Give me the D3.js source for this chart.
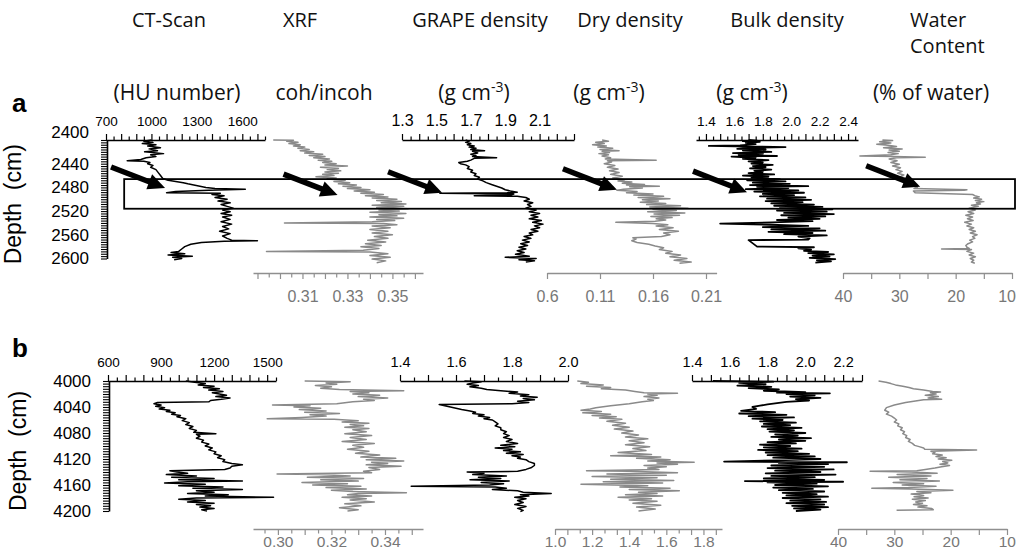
<!DOCTYPE html>
<html>
<head>
<meta charset="utf-8">
<script src="https://cdn.jsdelivr.net/npm/d3@7"></script>
<style>
  body { margin: 0; background: #fff; }
  svg { display: block; }
  text { font-family: "Liberation Sans", Arial, sans-serif; }
  .hdr { font-family: "Open Sans", sans-serif; font-size: 20px; fill: #111; }
  .unit { font-family: "Open Sans", sans-serif; font-size: 21px; fill: #111; }
</style>
</head>
<body>
<script>
// ---------- data (depth cm, value) ----------
// core section a
const ctA = [[2400,1000],[2402,950],[2404,1010],[2406,940],[2408,1030],[2410,975],[2413,1060],[2415,985],[2418,1040],[2420,955],[2423,1080],[2425,995],[2428,1030],[2430,965],[2433,930],[2435,840],[2436,950],[2438,990],[2440,975],[2443,1010],[2446,995],[2450,1030],[2455,1045],[2460,1060],[2465,1075],[2468,1110],[2470,1160],[2472,1210],[2474,1240],[2476,1280],[2478,1320],[2480,1360],[2482,1420],[2483,1620],[2485,1380],[2487,1160],[2489,1100],[2490,1455],[2492,1400],[2494,1480],[2497,1420],[2500,1500],[2503,1440],[2506,1520],[2509,1460],[2512,1500],[2515,1540],[2518,1470],[2521,1520],[2524,1460],[2527,1530],[2530,1470],[2534,1520],[2538,1460],[2542,1530],[2546,1470],[2550,1510],[2554,1450],[2558,1520],[2562,1470],[2566,1500],[2569,1530],[2570,1700],[2571,1480],[2573,1330],[2576,1260],[2580,1220],[2584,1200],[2588,1180],[2590,1130],[2592,1220],[2594,1110],[2596,1270],[2598,1140],[2600,1200],[2602,1150]];
const xrfA = [[2400,0.297],[2400.5,0.306],[2402,0.303],[2404,0.308],[2406,0.304],[2408,0.309],[2410,0.306],[2412,0.311],[2414,0.308],[2416,0.313],[2418,0.309],[2420,0.315],[2422,0.311],[2424,0.319],[2426,0.313],[2428,0.320],[2430,0.315],[2432,0.322],[2434,0.317],[2436,0.323],[2438,0.319],[2440,0.325],[2442,0.320],[2444,0.330],[2446,0.318],[2448,0.326],[2450,0.321],[2452,0.327],[2454,0.320],[2456,0.326],[2458,0.319],[2460,0.324],[2462,0.316],[2464,0.325],[2466,0.321],[2468,0.329],[2470,0.324],[2472,0.331],[2474,0.326],[2476,0.334],[2478,0.328],[2480,0.336],[2482,0.330],[2484,0.340],[2486,0.333],[2488,0.342],[2490,0.336],[2492,0.346],[2494,0.338],[2496,0.348],[2498,0.341],[2500,0.352],[2502,0.343],[2504,0.354],[2506,0.345],[2508,0.356],[2510,0.341],[2512,0.355],[2514,0.343],[2516,0.357],[2518,0.344],[2520,0.353],[2522,0.340],[2524,0.356],[2526,0.344],[2528,0.352],[2530,0.340],[2532,0.355],[2534,0.343],[2536,0.351],[2538,0.341],[2540,0.302],[2541,0.346],[2543,0.352],[2545,0.341],[2548,0.349],[2551,0.340],[2554,0.348],[2557,0.341],[2560,0.350],[2563,0.342],[2566,0.348],[2569,0.339],[2572,0.347],[2575,0.338],[2578,0.345],[2580,0.336],[2583,0.344],[2586,0.337],[2588,0.294],[2589,0.340],[2592,0.348],[2595,0.340],[2598,0.349],[2601,0.341],[2604,0.347],[2607,0.343]];
const grapeA = [[2400,1.67],[2402,1.69],[2404,1.67],[2406,1.70],[2408,1.68],[2410,1.72],[2412,1.69],[2414,1.73],[2416,1.70],[2418,1.78],[2419,1.71],[2422,1.74],[2424,1.70],[2426,1.73],[2428,1.71],[2430,1.85],[2431,1.72],[2434,1.70],[2436,1.68],[2438,1.63],[2440,1.64],[2442,1.67],[2445,1.69],[2448,1.68],[2451,1.71],[2454,1.70],[2457,1.73],[2460,1.72],[2463,1.75],[2466,1.74],[2469,1.77],[2472,1.79],[2475,1.82],[2478,1.85],[2481,1.88],[2484,1.90],[2486,1.93],[2488,1.97],[2489,1.91],[2490,1.52],[2491,1.95],[2493,1.93],[2494,1.72],[2495,1.97],[2497,2.02],[2500,2.04],[2503,2.01],[2506,2.06],[2509,2.03],[2512,2.05],[2515,2.02],[2518,2.08],[2521,2.04],[2524,2.10],[2527,2.05],[2530,2.09],[2533,2.04],[2536,2.11],[2539,2.06],[2542,2.12],[2545,2.07],[2548,2.10],[2551,2.05],[2554,2.09],[2557,2.04],[2560,2.06],[2563,2.01],[2566,2.05],[2569,2.00],[2572,2.04],[2575,1.99],[2578,2.03],[2581,1.98],[2584,2.02],[2587,1.97],[2590,2.01],[2593,1.96],[2596,2.04],[2598,1.90],[2600,2.08],[2602,1.98],[2604,2.07],[2606,2.02]];
const dryA = [[2400,0.112],[2402,0.118],[2404,0.106],[2406,0.114],[2408,0.103],[2410,0.116],[2412,0.108],[2414,0.122],[2416,0.110],[2418,0.128],[2419,0.112],[2421,0.119],[2423,0.109],[2425,0.118],[2427,0.112],[2430,0.120],[2432,0.115],[2434,0.163],[2435,0.117],[2437,0.121],[2440,0.114],[2443,0.124],[2446,0.117],[2449,0.127],[2452,0.119],[2455,0.128],[2458,0.120],[2461,0.131],[2464,0.122],[2467,0.133],[2469,0.127],[2471,0.140],[2473,0.131],[2475,0.152],[2476,0.135],[2478,0.166],[2479,0.138],[2481,0.150],[2483,0.132],[2485,0.126],[2487,0.145],[2489,0.135],[2491,0.160],[2493,0.142],[2495,0.170],[2497,0.146],[2499,0.176],[2501,0.150],[2503,0.165],[2505,0.148],[2507,0.172],[2509,0.154],[2511,0.186],[2513,0.157],[2515,0.193],[2517,0.160],[2519,0.182],[2521,0.155],[2523,0.190],[2525,0.161],[2527,0.185],[2529,0.158],[2531,0.178],[2533,0.163],[2535,0.172],[2537,0.162],[2539,0.125],[2541,0.160],[2543,0.174],[2545,0.163],[2548,0.179],[2551,0.166],[2554,0.184],[2557,0.170],[2560,0.176],[2563,0.168],[2565,0.141],[2567,0.144],[2570,0.140],[2573,0.145],[2576,0.156],[2579,0.162],[2582,0.170],[2585,0.166],[2588,0.178],[2591,0.172],[2594,0.186],[2597,0.176],[2600,0.192],[2603,0.180],[2606,0.196],[2608,0.185]];
const bulkA = [[2400,1.70],[2401,1.76],[2402,1.66],[2403,1.78],[2405,1.68],[2407,1.75],[2409,1.64],[2410,1.42],[2411,1.70],[2412,1.96],[2413,1.72],[2415,1.62],[2416,1.82],[2418,1.66],[2420,1.86],[2422,1.59],[2423,1.80],[2425,1.63],[2427,1.90],[2428,1.58],[2430,1.75],[2432,1.66],[2434,1.84],[2436,1.70],[2438,1.80],[2440,1.72],[2442,1.87],[2444,1.73],[2446,1.82],[2448,1.71],[2450,1.86],[2452,1.74],[2454,1.80],[2456,1.70],[2458,1.88],[2460,1.66],[2462,1.84],[2464,1.72],[2466,1.92],[2468,1.69],[2470,1.96],[2472,1.73],[2474,1.99],[2476,1.71],[2478,2.12],[2479,1.76],[2481,1.98],[2483,1.68],[2485,2.05],[2487,1.74],[2489,2.09],[2491,1.80],[2493,2.02],[2495,1.78],[2497,2.10],[2499,1.83],[2501,2.14],[2503,1.82],[2505,2.08],[2507,1.86],[2509,2.16],[2511,1.88],[2513,2.22],[2515,1.92],[2517,2.29],[2519,1.90],[2521,2.25],[2523,1.95],[2525,2.30],[2527,1.93],[2529,2.24],[2531,1.98],[2533,2.20],[2535,1.90],[2537,2.15],[2539,1.87],[2541,1.50],[2543,1.85],[2545,2.12],[2547,1.80],[2549,2.20],[2551,1.86],[2553,2.24],[2555,1.84],[2557,2.15],[2559,1.95],[2561,2.25],[2563,2.05],[2566,2.13],[2568,2.12],[2569,1.70],[2580,1.76],[2581,2.16],[2583,2.05],[2585,2.14],[2587,2.09],[2589,2.26],[2591,2.12],[2593,2.30],[2595,2.15],[2597,2.27],[2599,2.13],[2601,2.31],[2603,2.18],[2605,2.28],[2607,2.17]];
const waterA = [[2400,33.0],[2401,31.2],[2403,33.5],[2405,31.5],[2407,34.0],[2409,32.0],[2411,30.5],[2413,32.8],[2415,29.5],[2417,31.8],[2419,30.0],[2421,32.0],[2423,30.2],[2425,31.5],[2427,37.0],[2428,31.0],[2429,25.4],[2430,30.5],[2432,31.8],[2435,30.4],[2438,31.5],[2441,30.0],[2444,31.2],[2447,29.8],[2450,30.6],[2453,29.5],[2456,30.3],[2459,29.2],[2462,29.8],[2465,28.6],[2468,28.9],[2471,27.8],[2474,28.2],[2477,27.2],[2480,26.8],[2482,27.4],[2484,18.0],[2485,18.5],[2486,27.5],[2489,27.2],[2492,17.0],[2494,16.6],[2496,15.8],[2498,16.8],[2500,15.4],[2502,16.5],[2504,15.0],[2506,16.3],[2508,15.6],[2510,17.2],[2512,16.0],[2515,17.6],[2518,16.5],[2521,17.8],[2524,16.8],[2527,18.2],[2530,17.0],[2533,17.9],[2536,16.9],[2539,18.4],[2542,17.2],[2545,18.0],[2548,16.8],[2551,17.6],[2554,16.5],[2557,17.4],[2560,16.2],[2563,17.0],[2566,16.6],[2569,17.5],[2572,17.0],[2575,17.8],[2578,18.2],[2581,18.0],[2583,17.6],[2584,22.5],[2585,17.2],[2588,18.0],[2591,16.8],[2594,17.6],[2597,16.5],[2600,17.4],[2603,16.8],[2606,17.2],[2608,16.6]];

// core section b
const ctB = [[4000,1040],[4002,1090],[4004,1150],[4006,1110],[4008,1200],[4010,1140],[4012,1230],[4014,1170],[4016,1250],[4018,1190],[4020,1230],[4022,1270],[4024,1210],[4026,1290],[4028,1240],[4030,1180],[4032,1170],[4033,880],[4035,860],[4037,900],[4039,870],[4041,920],[4043,890],[4045,950],[4047,930],[4049,980],[4051,960],[4053,1010],[4055,990],[4058,1040],[4061,1020],[4064,1060],[4067,1040],[4070,1080],[4073,1060],[4076,1100],[4079,1085],[4081,1210],[4082,1100],[4085,1120],[4088,1100],[4091,1140],[4094,1130],[4097,1170],[4100,1150],[4103,1190],[4106,1170],[4109,1210],[4112,1200],[4115,1240],[4118,1220],[4121,1260],[4124,1250],[4127,1300],[4129,1360],[4131,1300],[4134,1290],[4136,1260],[4138,950],[4140,990],[4142,1050],[4144,930],[4146,1100],[4148,960],[4150,1200],[4152,1000],[4154,1360],[4155,1050],[4157,920],[4159,1150],[4161,1000],[4163,1250],[4165,1080],[4167,1360],[4169,1100],[4171,1200],[4173,1050],[4175,1280],[4177,1150],[4179,1536],[4180,1100],[4182,1000],[4184,1150],[4186,1050],[4188,1200],[4190,1100],[4192,1180],[4194,1120],[4196,1200],[4198,1130],[4200,1160]];
const xrfB = [[4000,0.310],[4001,0.327],[4003,0.318],[4005,0.322],[4007,0.314],[4009,0.320],[4011,0.316],[4013,0.323],[4015,0.347],[4016,0.327],[4018,0.334],[4020,0.328],[4022,0.338],[4024,0.330],[4026,0.341],[4028,0.332],[4030,0.336],[4032,0.328],[4035,0.322],[4037,0.298],[4038,0.312],[4040,0.306],[4042,0.316],[4044,0.308],[4046,0.318],[4048,0.310],[4050,0.323],[4052,0.312],[4054,0.318],[4056,0.309],[4058,0.296],[4059,0.321],[4061,0.330],[4063,0.324],[4065,0.334],[4067,0.327],[4069,0.332],[4071,0.325],[4073,0.334],[4075,0.328],[4078,0.333],[4081,0.325],[4084,0.335],[4087,0.327],[4090,0.333],[4093,0.324],[4096,0.336],[4099,0.328],[4102,0.332],[4105,0.326],[4108,0.334],[4111,0.329],[4114,0.338],[4117,0.331],[4119,0.344],[4121,0.333],[4123,0.347],[4125,0.335],[4127,0.341],[4129,0.333],[4131,0.346],[4133,0.334],[4136,0.338],[4139,0.332],[4141,0.335],[4143,0.2997],[4144,0.315],[4146,0.327],[4148,0.311],[4150,0.332],[4152,0.316],[4154,0.330],[4156,0.309],[4158,0.326],[4160,0.313],[4162,0.331],[4164,0.318],[4166,0.333],[4168,0.320],[4170,0.328],[4172,0.348],[4173,0.330],[4175,0.326],[4177,0.335],[4179,0.324],[4181,0.333],[4183,0.327],[4186,0.336],[4189,0.325],[4192,0.331],[4195,0.323],[4198,0.330],[4200,0.326]];
const grapeB = [[4000,1.63],[4001,1.69],[4003,1.66],[4005,1.64],[4007,1.68],[4009,1.65],[4011,1.69],[4013,1.71],[4015,1.76],[4017,1.82],[4019,1.79],[4021,1.86],[4023,1.83],[4025,1.89],[4027,1.84],[4029,1.88],[4031,1.82],[4033,1.86],[4035,1.80],[4036,1.54],[4038,1.56],[4040,1.58],[4042,1.60],[4044,1.62],[4046,1.65],[4048,1.67],[4050,1.66],[4052,1.70],[4054,1.68],[4056,1.72],[4058,1.70],[4060,1.73],[4063,1.74],[4066,1.75],[4069,1.74],[4072,1.76],[4075,1.76],[4078,1.78],[4081,1.77],[4084,1.79],[4087,1.77],[4090,1.80],[4093,1.78],[4096,1.82],[4099,1.76],[4101,1.81],[4103,1.74],[4105,1.80],[4107,1.77],[4109,1.83],[4111,1.78],[4113,1.84],[4115,1.80],[4117,1.83],[4119,1.82],[4121,1.85],[4124,1.86],[4127,1.88],[4130,1.88],[4133,1.87],[4136,1.85],[4139,1.82],[4140,1.64],[4142,1.70],[4144,1.66],[4146,1.78],[4148,1.68],[4150,1.76],[4152,1.65],[4154,1.79],[4156,1.69],[4158,1.77],[4160,1.72],[4162,1.44],[4163,1.74],[4165,1.78],[4167,1.73],[4169,1.82],[4171,1.84],[4173,1.94],[4175,1.83],[4177,1.86],[4179,1.81],[4181,1.85],[4184,1.82],[4187,1.84],[4190,1.81],[4193,1.85],[4196,1.82],[4199,1.84],[4201,1.83]];
const dryB = [[4000,1.12],[4002,1.18],[4004,1.14],[4006,1.26],[4008,1.17],[4010,1.30],[4012,1.25],[4014,1.38],[4016,1.43],[4018,1.48],[4019,1.66],[4020,1.50],[4022,1.55],[4024,1.48],[4026,1.56],[4028,1.50],[4030,1.53],[4032,1.47],[4035,1.40],[4038,1.30],[4041,1.22],[4043,1.19],[4045,1.14],[4047,1.25],[4049,1.15],[4051,1.30],[4053,1.20],[4055,1.33],[4057,1.24],[4059,1.36],[4062,1.28],[4065,1.38],[4068,1.31],[4071,1.40],[4074,1.32],[4077,1.42],[4080,1.36],[4083,1.45],[4086,1.38],[4089,1.50],[4092,1.40],[4095,1.48],[4098,1.38],[4101,1.51],[4104,1.42],[4107,1.49],[4110,1.34],[4113,1.52],[4115,1.30],[4117,1.57],[4119,1.44],[4121,1.62],[4123,1.50],[4125,1.75],[4126,1.55],[4128,1.66],[4130,1.48],[4132,1.60],[4134,1.50],[4136,1.56],[4138,1.17],[4139,1.40],[4141,1.66],[4143,1.28],[4145,1.60],[4147,1.20],[4149,1.55],[4151,1.30],[4153,1.64],[4155,1.26],[4157,1.58],[4159,1.14],[4161,1.50],[4163,1.35],[4165,1.62],[4167,1.40],[4169,1.67],[4171,1.45],[4173,1.55],[4175,1.38],[4177,1.58],[4179,1.34],[4181,1.52],[4183,1.40],[4185,1.55],[4188,1.42],[4191,1.57],[4194,1.44],[4197,1.54],[4200,1.45]];
const bulkB = [[4000,1.51],[4001,1.83],[4003,1.65],[4005,1.79],[4007,1.64],[4009,1.82],[4011,1.70],[4013,1.86],[4015,1.78],[4017,2.00],[4018,1.85],[4019,2.13],[4020,1.90],[4022,2.05],[4024,1.92],[4026,2.08],[4028,1.95],[4030,2.02],[4032,1.90],[4034,1.85],[4036,1.80],[4038,1.76],[4040,1.72],[4043,1.74],[4046,1.66],[4048,1.84],[4050,1.65],[4052,1.90],[4054,1.70],[4056,1.94],[4058,1.72],[4060,1.88],[4062,1.76],[4064,1.95],[4066,1.78],[4068,1.92],[4070,1.77],[4072,1.98],[4074,1.80],[4076,1.94],[4078,1.81],[4080,2.00],[4082,1.84],[4084,1.96],[4086,1.82],[4088,2.03],[4090,1.86],[4092,2.00],[4094,1.80],[4096,1.95],[4098,1.76],[4100,1.92],[4102,1.78],[4104,1.98],[4106,1.75],[4108,1.96],[4110,1.79],[4112,2.02],[4114,1.80],[4116,2.05],[4118,1.83],[4120,2.08],[4122,1.85],[4124,1.57],[4125,2.22],[4126,1.86],[4128,2.12],[4130,1.82],[4132,2.10],[4134,1.80],[4136,2.15],[4138,1.84],[4140,2.08],[4142,1.79],[4144,2.16],[4146,1.82],[4148,2.05],[4150,1.78],[4152,2.10],[4154,1.68],[4155,2.20],[4156,1.80],[4158,2.06],[4160,1.84],[4162,2.12],[4164,1.83],[4166,2.04],[4168,1.86],[4170,2.10],[4172,1.88],[4174,2.06],[4176,1.90],[4178,2.12],[4180,1.88],[4182,2.08],[4184,1.92],[4186,2.11],[4188,1.90],[4190,2.10],[4192,1.93],[4194,2.12],[4196,1.94],[4198,2.08],[4200,1.95]];
const waterB = [[4000,32.8],[4002,31.5],[4004,30.6],[4006,29.8],[4008,28.5],[4010,27.4],[4012,26.6],[4014,24.8],[4016,23.2],[4017,21.8],[4018,23.6],[4020,22.6],[4022,24.5],[4024,22.2],[4026,24.0],[4028,21.6],[4029,24.8],[4033,28.0],[4037,30.0],[4041,31.4],[4045,31.7],[4048,31.0],[4051,31.4],[4054,30.5],[4057,30.0],[4060,29.6],[4063,30.0],[4066,29.2],[4069,29.4],[4072,28.6],[4075,28.9],[4078,28.2],[4081,28.5],[4084,27.8],[4087,28.0],[4090,27.2],[4093,27.5],[4096,26.8],[4099,26.4],[4101,25.6],[4103,24.8],[4105,24.6],[4106,15.4],[4108,23.5],[4110,22.8],[4112,23.2],[4114,21.5],[4116,22.6],[4118,20.8],[4120,22.2],[4122,19.8],[4124,21.4],[4126,20.5],[4128,21.9],[4130,20.2],[4132,21.6],[4134,22.8],[4136,24.5],[4138,26.0],[4139,34.3],[4140,27.0],[4142,22.4],[4144,29.5],[4146,23.5],[4148,31.0],[4150,24.2],[4152,29.0],[4154,22.0],[4156,30.2],[4158,24.8],[4160,28.6],[4162,22.6],[4164,27.5],[4165,34.0],[4166,27.0],[4168,19.6],[4170,26.0],[4172,23.5],[4174,27.0],[4176,24.8],[4178,26.5],[4180,24.0],[4182,26.8],[4184,24.5],[4186,26.2],[4188,25.0],[4190,26.6],[4192,24.2],[4194,25.8],[4196,23.4],[4198,23.1],[4199,29.6]];

// tick labels
const depthLabelsA = [2400, 2440, 2480, 2520, 2560, 2600];
const depthLabelsB = [4000, 4040, 4080, 4120, 4160, 4200];
const ctTicksA = [700, 1000, 1300, 1600];
const xrfTicksA = [0.31, 0.33, 0.35];
const grapeTicksA = [1.3, 1.5, 1.7, 1.9, 2.1];
const dryTicksA = [0.06, 0.11, 0.16, 0.21];
const dryLabelsA = ["0.6", "0.11", "0.16", "0.21"];
const bulkTicksA = [1.4, 1.6, 1.8, 2.0, 2.2, 2.4];
const waterTicks = [40, 30, 20, 10];
const ctTicksB = [600, 900, 1200, 1500];
const xrfTicksB = [0.30, 0.32, 0.34];
const grapeTicksB = [1.4, 1.6, 1.8, 2.0];
const dryTicksB = [1.0, 1.2, 1.4, 1.6, 1.8];
const bulkTicksB = [1.4, 1.6, 1.8, 2.0, 2.2];

// headers
const titles = ["CT-Scan", "XRF", "GRAPE density", "Dry density", "Bulk density"];
const waterTitle = ["Water", "Content"];
const units = ["(HU number)", "coh/incoh", "(g cm|-3|)", "(g cm|-3|)", "(g cm|-3|)", "(% of water)"];

// arrows in section a: [column, value, depth] of the tip
const arrowsA = [[0, 1090, 2481], [1, 0.3256, 2493], [2, 1.533, 2489], [3, 0.126, 2484], [4, 1.689, 2488], [5, 26.3, 2479]];
const boxA = [2466, 2516];

// ---------- layout ----------
const W = 1017, H = 557;
const BLACK = "#000", GREY = "#8a8a8a", GREY_AX = "#8f8f8f", GREY_TXT = "#777";

const fmt1 = d => d.toFixed(1), fmt2 = d => d.toFixed(2);
const panels = [
  { letter: "a", letterY: 112, titleX: 21, depth: [2400, 2600], yr: [140, 258.5], depthLabels: depthLabelsA,
    bottomY: 273, bottomLab: 29, firstLift: 8,
    cols: [
      { data: ctA, domain: [700, 1750], range: [106, 265], side: "top", step: 50, tv: ctTicksA, tl: ctTicksA.map(String), fs: 13.5 },
      { data: xrfA, domain: [0.288, 0.3636], range: [253, 423], side: "bottom", step: 0.005, tv: xrfTicksA, tl: xrfTicksA.map(fmt2), fs: 16 },
      { data: grapeA, domain: [1.3, 2.3], range: [402, 574], side: "top", step: 0.05, tv: grapeTicksA, tl: grapeTicksA.map(fmt1), fs: 16 },
      { data: dryA, domain: [0.06, 0.22], range: [547, 716.6], side: "bottom", step: 0.05, tv: dryTicksA, tl: dryLabelsA, fs: 16, only: dryTicksA },
      { data: bulkA, domain: [1.33, 2.47], range: [696, 858], side: "top", step: 0.05, tv: bulkTicksA, tl: bulkTicksA.map(fmt1), fs: 13.5, wide: 1.8 },
      { data: waterA, domain: [40, 10], range: [843, 1012], side: "bottom", step: 5, tv: waterTicks, tl: waterTicks.map(String), fs: 16, all: true }
    ] },
  { letter: "b", letterY: 357, titleX: 26, depth: [4000, 4200], yr: [381, 511], depthLabels: depthLabelsB,
    bottomY: 529, bottomLab: 18, firstLift: 0,
    cols: [
      { data: ctB, domain: [600, 1550], range: [108, 276], side: "top", step: 50, tv: ctTicksB, tl: ctTicksB.map(String), fs: 13.5 },
      { data: xrfB, domain: [0.2907, 0.3542], range: [253, 423], side: "bottom", step: 0.005, tv: xrfTicksB, tl: xrfTicksB.map(fmt2), fs: 15.5 },
      { data: grapeB, domain: [1.4, 2.0], range: [400, 568], side: "top", step: 0.05, tv: grapeTicksB, tl: grapeTicksB.map(fmt1), fs: 14.5 },
      { data: dryB, domain: [1.0, 1.9], range: [555, 722], side: "bottom", step: 1 / 15, tv: dryTicksB, tl: dryTicksB.map(fmt1), fs: 15.5 },
      { data: bulkB, domain: [1.4, 2.3], range: [692, 862], side: "top", step: 0.05, tv: bulkTicksB, tl: bulkTicksB.map(fmt1), fs: 14.5, wide: 1.8 },
      { data: waterB, domain: [40, 10], range: [838, 1007], side: "bottom", step: 5, tv: waterTicks, tl: waterTicks.map(String), fs: 15.5, all: true }
    ] }
];

const svg = d3.select("body").append("svg").attr("width", W).attr("height", H);
svg.append("rect").attr("width", W).attr("height", H).attr("fill", "#fff");

// header rows
const titleX = [169, 300, 480, 630, 787];
svg.selectAll(".hdr-t").data(titles).enter().append("text")
  .attr("class", "hdr").attr("x", (d, i) => titleX[i]).attr("y", 27).attr("text-anchor", "middle").text(d => d);
svg.selectAll(".hdr-w").data(waterTitle).enter().append("text")
  .attr("class", "hdr").attr("x", 910).attr("y", (d, i) => 27 + i * 26).text(d => d);

const unitX = [177, 324, 474, 609, 752, 931];
units.forEach((u, i) => {
  const t = svg.append("text").attr("class", "unit").attr("x", unitX[i]).attr("y", 100).attr("text-anchor", "middle");
  const parts = u.split("|");
  t.append("tspan").text(parts[0]);
  if (parts.length > 1) {
    t.append("tspan").attr("dy", -8).attr("font-size", 14).text(parts[1]);
    t.append("tspan").attr("dy", 8).text(parts[2]);
  }
});

function tickList(col) {
  if (col.only) return col.only;
  const lo = Math.min(...col.domain), hi = Math.max(...col.domain);
  const s = col.step;
  const out = [];
  for (let k = Math.ceil(lo / s - 1e-6); k <= Math.floor(hi / s + 1e-6); k++) out.push(+(k * s).toFixed(4));
  return out;
}

panels.forEach(p => {
  const y = d3.scaleLinear().domain(p.depth).range(p.yr);
  const g = svg.append("g");

  // panel letter and depth title
  g.append("text").attr("x", 12).attr("y", p.letterY).attr("font-size", 26).attr("font-weight", "bold").text(p.letter);
  g.append("text").attr("transform", `translate(${p.titleX},${(p.yr[0] + p.yr[1]) / 2 + 5}) rotate(-90)`)
    .attr("text-anchor", "middle").attr("font-family", "Open Sans, sans-serif").attr("font-size", 23)
    .style("white-space", "pre").text("Depth  (cm)");

  const scales = p.cols.map(c => d3.scaleLinear().domain(c.domain).range(c.range));
  const axisX = scales[0].range()[0] + 1;

  // depth axis
  const dTicks = d3.range(p.depth[0], p.depth[1] + 1, 4);
  const dAx = g.append("g").attr("transform", `translate(${axisX},0)`)
    .call(d3.axisLeft(y).tickValues(dTicks).tickSize(6).tickPadding(12).tickSizeOuter(0)
      .tickFormat(d => p.depthLabels.includes(d) ? d : ""));
  dAx.selectAll("text").attr("font-size", 17).attr("fill", BLACK).attr("font-family", "Liberation Sans, Arial, sans-serif")
    .attr("y", d => d === p.depth[0] ? -p.firstLift : 0);
  dAx.selectAll("line").attr("stroke", BLACK).attr("stroke-width", 1.1);
  dAx.select(".domain").attr("stroke", BLACK).attr("stroke-width", 1.6);

  // traces
  p.cols.forEach((c, i) => {
    const x = scales[i];
    const col = c.side === "top" ? BLACK : GREY;
    g.append("path").datum(c.data)
      .attr("fill", "none").attr("stroke", col).attr("stroke-width", c.wide || 1.5).attr("stroke-linejoin", "round")
      .attr("d", d3.line().x(d => x(d[1])).y(d => y(d[0])));
  });

  // value axes
  p.cols.forEach((c, i) => {
    const x = scales[i];
    const top = c.side === "top";
    const vals = tickList(c);
    const labIdx = v => c.tv.findIndex(t => Math.abs(t - v) < 1e-6);
    const axis = (top ? d3.axisTop(x) : d3.axisBottom(x)).tickValues(vals).tickSizeOuter(0)
      .tickFormat(v => { const k = labIdx(v); return k < 0 ? "" : c.tl[k]; });
    const ay = top ? p.yr[0] : p.bottomY;
    const ax = g.append("g").attr("transform", `translate(0,${ay})`).call(axis);
    const colr = top ? BLACK : GREY_AX;
    ax.select(".domain").attr("stroke", colr).attr("stroke-width", 1.6);
    ax.selectAll(".tick line").attr("stroke", colr).attr("stroke-width", 1.2)
      .attr("y2", v => {
        const tall = c.all || labIdx(v) >= 0 || Math.round(v / c.step) % 2 === 0;
        const len = top ? (tall ? 6 : 3.5) : (tall ? 6 : 4.5);
        return top ? -len : len;
      });
    ax.selectAll(".tick text").attr("font-size", c.fs).attr("fill", top ? BLACK : GREY_TXT)
      .attr("font-family", "Liberation Sans, Arial, sans-serif")
      .attr("dy", null).attr("y", top ? -14 : p.bottomLab);
    // keep the right-most label inside the picture
    ax.selectAll(".tick text").filter(function () {
      const t = this.parentNode.getAttribute("transform");
      return +t.match(/translate\(([-\d.]+)/)[1] > W - 14;
    }).attr("text-anchor", "end").attr("x", function () {
      const t = this.parentNode.getAttribute("transform");
      return (W - 1) - +t.match(/translate\(([-\d.]+)/)[1];
    });
  });

  // section a: highlighted interval and arrows
  if (p.letter === "a") {
    const x0 = scales[0](820);
    g.append("rect").attr("x", x0).attr("y", y(boxA[0])).attr("width", W - 2 - x0).attr("height", y(boxA[1]) - y(boxA[0]))
      .attr("fill", "none").attr("stroke", BLACK).attr("stroke-width", 1.8);
    arrowsA.forEach(([ci, v, dep]) => {
      const tx = scales[ci](v), ty = y(dep);
      const sx = tx - 54, sy = ty - 21;
      const len = Math.hypot(tx - sx, ty - sy), ux = (tx - sx) / len, uy = (ty - sy) / len;
      const hl = 17, hw = 8;
      const bx = tx - ux * hl, by = ty - uy * hl;
      g.append("line").attr("x1", sx).attr("y1", sy).attr("x2", bx + ux * 2).attr("y2", by + uy * 2)
        .attr("stroke", BLACK).attr("stroke-width", 5.5);
      g.append("path").attr("fill", BLACK)
        .attr("d", `M${tx},${ty}L${bx - uy * hw},${by + ux * hw}L${bx + uy * hw},${by - ux * hw}Z`);
    });
  }
});
</script>
</body>
</html>
